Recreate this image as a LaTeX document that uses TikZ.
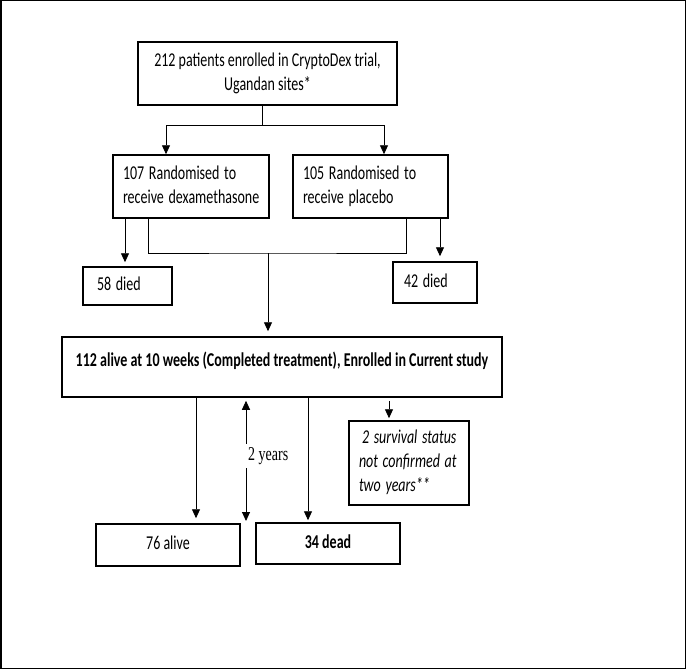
\documentclass[tikz,border=0pt]{standalone}
\usepackage{fontspec}
\setmainfont{Carlito}
\newfontfamily\timesfont{Liberation Serif}
\usepackage{graphicx}
\usetikzlibrary{arrows.meta}
\newcommand{\stl}[1]{\noindent\scalebox{1}[1.4]{\begin{tabular}{@{}l@{}}#1\end{tabular}}}
\newcommand{\stc}[1]{\scalebox{1}[1.4]{\begin{tabular}{@{}c@{}}#1\end{tabular}}}
\begin{document}
\begin{tikzpicture}[x=1pt,y=-1pt,
  box/.style={draw, line width=1.5pt, inner sep=0pt, font=\fontsize{14}{17}\selectfont},
  conn/.style={line width=0.9pt},
  tip/.style={Triangle[width=8pt,length=9pt]},
  arr/.style={conn, -{Triangle[width=8pt,length=9pt]}}]
\useasboundingbox (0,0) rectangle (686,669);
\draw[line width=1.5pt] (0.75,0.75) rectangle (685.25,668.25);

% boxes
\node[box, minimum width=259pt, minimum height=63pt] (b1) at (267.5,73.5)
  {\stc{212 patients enrolled in CryptoDex trial,\\Ugandan sites*}};
\node[box, text width=136pt, inner xsep=10pt, minimum height=63pt, align=left] (b2l) at (191,186.5)
  {\stl{107 Randomised to\\receive dexamethasone}};
\node[box, text width=135pt, inner xsep=10pt, minimum height=63pt, align=left] (b2r) at (370.5,186.5)
  {\stl{105 Randomised to\\receive placebo}};
\node[box, text width=61pt, inner xsep=14pt, minimum height=38pt, align=left] (d58) at (127.5,286)
  {\stl{58 died}};
\node[box, text width=62pt, inner xsep=11pt, minimum height=41pt, align=left] (d42) at (435,282.5)
  {\stl{42 died}};
\node[box, minimum width=440pt, minimum height=60pt] (b112) at (282,367)
  {\raisebox{0pt}[0pt][0pt]{\stc{\bfseries 112 alive at 10 weeks (Completed treatment), Enrolled in Current study}}};
\node[box, text width=100pt, inner xsep=10pt, minimum height=84pt, align=left] (unc) at (409,463)
  {\stl{\itshape\hspace*{3pt}2 survival status\\\itshape not confirmed at\\\itshape two years**}};
\node[box, minimum width=144pt, minimum height=42pt] (alive76) at (168,545)
  {\stc{76 alive}};
\node[box, minimum width=144pt, minimum height=41pt] (dead34) at (328,543.5)
  {\stc{\bfseries 34 dead}};

% helper coordinates
\coordinate (split) at (262,125);
\coordinate (xa) at (166,0);
\coordinate (xb) at (384,0);
\coordinate (x58) at (125,0);
\coordinate (xm1) at (148,0);
\coordinate (xm2) at (406,0);
\coordinate (mid) at (268,253);
\coordinate (x42) at (440,0);
\coordinate (x76) at (196,0);
\coordinate (x2y) at (246,0);
\coordinate (yrsend) at (246,521);
\coordinate (x34) at (308,0);
\coordinate (xu) at (389,0);

% connectors
\draw[conn] (split |- b1.south) -- (split);
\draw[arr] (split) -| (xa |- b2l.north);
\draw[arr] (split) -| (xb |- b2r.north);
\draw[arr, shorten >=4pt] (x58 |- b2l.south) -- (x58 |- d58.north);
\draw[conn] (xm1 |- b2l.south) |- (mid) -| (xm2 |- b2r.south);
\draw[arr, shorten >=5pt] (mid) -- (mid |- b112.north);
\draw[arr, shorten >=5pt] (x42 |- b2r.south) -- (x42 |- d42.north);
\draw[arr, shorten >=5pt] (x76 |- b112.south) -- (x76 |- alive76.north);
\draw[conn, {Triangle[width=8pt,length=9pt]}-{Triangle[width=8pt,length=9pt]}, shorten <=3pt] (x2y |- b112.south) -- (yrsend);
\node[fill=white, inner xsep=3.5pt, inner ysep=3pt, anchor=west, font=\timesfont\fontsize{14}{17}\selectfont] (yrs) at (244.5,456) {\scalebox{1}[1.4]{2 years}};
\draw[arr, shorten >=2pt] (x34 |- b112.south) -- (x34 |- dead34.north);
\draw[arr, shorten <=3pt, shorten >=2pt] (xu |- b112.south) -- (xu |- unc.north);
\end{tikzpicture}
\end{document}
